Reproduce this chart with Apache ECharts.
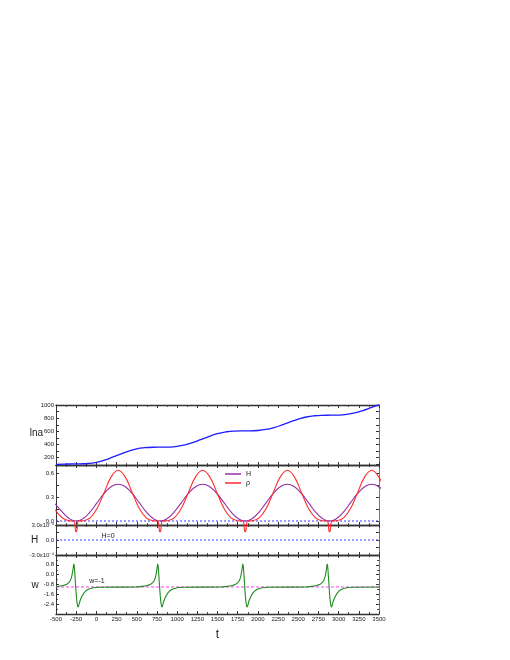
<!DOCTYPE html>
<html><head><meta charset="utf-8">
<script src="https://cdn.jsdelivr.net/npm/echarts@6/dist/echarts.min.js"></script>
<style>html,body{margin:0;padding:0;background:#fff}#c{width:510px;height:660px}</style>
</head><body><div id="c"></div>
<script>
// ---- data ----
const tLna = [-500,-400,-300,-200,-100,0,100,200,300,400,500,600,700,800,900,1000,1100,1200,1300,1400,1500,1600,1700,1800,1900,2000,2100,2200,2300,2400,2500,2600,2700,2800,2900,3000,3100,3200,3300,3400,3500];
const lnaVals = [100,104,106,108,113,130,163,208,256,300,335,352,359,360,362,372,396,433,479,525,565,591,605,608,608,613,629,658,698,743,785,818,837,844,845,847,857,880,916,960,1005];

const tH = [-510,-423,-337,-250,-163,-77,10,97,183,270,357,443,530,617,703,
  789,877,965,1053,1140,1228,1316,1404,1492,1580,1667,1755,
  1843,1930,2017,2104,2191,2278,2365,2452,2539,2626,2713,2800,
  2888,2975,3062,3149,3236,3323,3410,3497,3584];
const hVals = [0.215,0.115,0.031,0,0.031,0.115,0.23,0.345,0.429,0.46,0.429,0.345,0.23,0.115,0.031,
  0,0.031,0.115,0.23,0.345,0.429,0.46,0.429,0.345,0.23,0.115,0.031,
  0,0.031,0.115,0.23,0.345,0.429,0.46,0.429,0.345,0.23,0.115,0.031,
  0,0.031,0.115,0.23,0.345,0.429,0.46,0.429,0.345];

const tRho = [-510,-423,-337,-280,-268,-258,-250,-242,-232,-220,-163,-77,10,97,183,270,357,443,530,617,703,
  759,771,781,789,797,807,819,877,965,1053,1140,1228,1316,1404,1492,1580,1667,1755,
  1813,1825,1835,1843,1851,1861,1873,1930,2017,2104,2191,2278,2365,2452,2539,2626,2713,2800,
  2858,2870,2880,2888,2896,2906,2918,2975,3062,3149,3236,3323,3410,3497,3584];
const rhoVals = [0.139,0.040,0.003,0,-0.03,-0.12,-0.135,-0.12,-0.03,0,0.003,0.040,0.159,0.357,0.552,0.635,0.552,0.357,0.159,0.040,0.003,
  0,-0.03,-0.12,-0.135,-0.12,-0.03,0,0.003,0.040,0.159,0.357,0.552,0.635,0.552,0.357,0.159,0.040,0.003,
  0,-0.03,-0.12,-0.135,-0.12,-0.03,0,0.003,0.040,0.159,0.357,0.552,0.635,0.552,0.357,0.159,0.040,0.003,
  0,-0.03,-0.12,-0.135,-0.12,-0.03,0,0.003,0.040,0.159,0.357,0.552,0.635,0.552,0.357];

const tW = [-500,
  -470,-410,-367,-335,-312,-298,-288,-280,-274,-265,-256,-247,-238,-228,-220,-210,-195,-178,-155,-120,-75,-20,50,
  489,569,629,672,704,727,741,751,759,765,774,783,792,801,811,819,829,844,861,884,919,964,1019,1089,
  1543,1623,1683,1726,1758,1781,1795,1805,1813,1819,1828,1837,1846,1855,1865,1873,1883,1898,1915,1938,1973,2018,2073,2143,
  2588,2668,2728,2771,2803,2826,2840,2850,2858,2864,2873,2882,2891,2900,2910,2918,2928,2943,2960,2983,3018,3063,3118,3188,
  3500];
const wVals = [-0.99,
  -0.95,-0.88,-0.78,-0.6,-0.3,0.1,0.5,0.86,0.7,-0.1,-1.0,-1.8,-2.35,-2.62,-2.55,-2.3,-2.0,-1.75,-1.5,-1.27,-1.13,-1.05,-1.02,
  -1.0,-0.95,-0.88,-0.78,-0.6,-0.3,0.1,0.5,0.86,0.7,-0.1,-1.0,-1.8,-2.35,-2.62,-2.55,-2.3,-2.0,-1.75,-1.5,-1.27,-1.13,-1.05,-1.02,
  -1.0,-0.95,-0.88,-0.78,-0.6,-0.3,0.1,0.5,0.86,0.7,-0.1,-1.0,-1.8,-2.35,-2.62,-2.55,-2.3,-2.0,-1.75,-1.5,-1.27,-1.13,-1.05,-1.02,
  -1.0,-0.95,-0.88,-0.78,-0.6,-0.3,0.1,0.5,0.86,0.7,-0.1,-1.0,-1.8,-2.35,-2.62,-2.55,-2.3,-2.0,-1.75,-1.5,-1.27,-1.13,-1.05,-1.02,
  -1.0];

const refT = [-500, 3500];
const hZero = [0, 0];
const wMinusOne = [-1, -1];

const xTickLabels = [-500,-250,0,250,500,750,1000,1250,1500,1750,2000,2250,2500,2750,3000,3250,3500];
const lnaTicks = [200,400,600,800,1000];
const rhoTicks = [0,0.3,0.6];
const hTicks = [-3,0,3];

// ---- chart ----
const FONT = 'Liberation Sans';
const AX = '#333';
const zip = (a,b) => a.map((v,i) => [v, b[i]]);
const panels = [
  {top:405, height:60},
  {top:465, height:60},
  {top:525, height:30},
  {top:555, height:59}
];
const grid = panels.map(p => ({left:56, width:323, top:p.top, height:p.height}));

const xAxis = [];
panels.forEach((p,i) => {
  ['bottom','top'].forEach(pos => {
    xAxis.push({
      type:'value', gridIndex:i, position:pos, min:-500, max:3500, interval:250,
      axisLine:{show:true, onZero:false, lineStyle:{color:AX, width:1.3}},
      axisTick:{show:true, inside:true, length:3, lineStyle:{color:AX, width:1}},
      minorTick:{show:true, splitNumber:2, length:1.8, lineStyle:{color:AX, width:1}},
      splitLine:{show:false},
      axisLabel:{show: i===3 && pos==='bottom', fontSize:6, margin:2, color:'#222', fontFamily:FONT,
        customValues: xTickLabels, formatter: v => String(v)},
      name: (i===3 && pos==='bottom') ? 't' : '',
      nameLocation:'middle', nameGap:15,
      nameTextStyle:{fontSize:12, color:'#222', fontFamily:FONT}
    });
  });
});

function yPair(i, cfg) {
  const base = {
    type:'value', gridIndex:i, min:cfg.min, max:cfg.max,
    axisLine:{show:true, onZero:false, lineStyle:{color:AX, width:1}},
    axisTick:{show:true, inside:true, length:3, lineStyle:{color:AX, width:1}, customValues:cfg.ticks},
    splitLine:{show:false},
    axisLabel:{show:true, fontSize:6, margin:2, color:'#222', fontFamily:FONT,
      customValues:cfg.labels, formatter:cfg.fmt}
  };
  if (cfg.interval) {
    base.interval = cfg.interval;
    delete base.axisTick.customValues;
    delete base.axisLabel.customValues;
    base.axisLabel.showMinLabel = false;
    base.axisLabel.showMaxLabel = false;
    base.minorTick = {show:true, splitNumber:2, length:1.8, lineStyle:{color:AX}};
  }
  const left = Object.assign({}, base, {position:'left'});
  const right = JSON.parse(JSON.stringify(base));
  right.position = 'right';
  right.axisLabel = {show:false};
  right.axisLine.lineStyle.color = '#777';
  return [left, right];
}
const fmt1 = v => v.toFixed(1);
const yAxis = [
  ...yPair(0, {min:90, max:1000, labels:lnaTicks, ticks:[100,200,300,400,500,600,700,800,900,1000], fmt: v => String(v)}),
  ...yPair(1, {min:-0.05, max:0.7, labels:rhoTicks, ticks:[0,0.15,0.3,0.45,0.6], fmt: fmt1}),
  ...yPair(2, {min:-3, max:3, labels:hTicks, ticks:[-3,-1.5,0,1.5,3],
      fmt: v => v === 0 ? '0.0' : (v > 0 ? '3.0x10\u207B\u2074' : '-3.0x10\u207B\u2074')}),
  ...yPair(3, {min:-3.2, max:1.6, interval:0.8, fmt: fmt1})
];

const BLUE_DOT = '#3a3aff';
const series = [
  {name:'lna', type:'line', xAxisIndex:0, yAxisIndex:0, data:zip(tLna, lnaVals), smooth:true,
   showSymbol:false, color:'#1c1cff', lineStyle:{color:'#1c1cff', width:1.3}},
  {name:'zero2', type:'line', xAxisIndex:2, yAxisIndex:2, data:zip(refT, hZero), showSymbol:false,
   color:BLUE_DOT, lineStyle:{color:BLUE_DOT, width:1, type:[2,2]}},
  {name:'H', type:'line', xAxisIndex:2, yAxisIndex:2, data:zip(tH, hVals), smooth:true,
   showSymbol:false, color:'#9230a8', lineStyle:{color:'#9230a8', width:1.1}},
  {name:'ρ', type:'line', xAxisIndex:2, yAxisIndex:2, data:zip(tRho, rhoVals), smooth:0.4, clip:false,
   showSymbol:false, color:'#ff2a2a', lineStyle:{color:'#ff2a2a', width:1.1}},
  {name:'zero3', type:'line', xAxisIndex:4, yAxisIndex:4, data:zip(refT, hZero), showSymbol:false, z:5,
   color:BLUE_DOT, lineStyle:{color:BLUE_DOT, width:1, type:[2,2]}},
  {name:'wref', type:'line', xAxisIndex:6, yAxisIndex:6, data:zip(refT, wMinusOne), showSymbol:false,
   color:'#ff3cff', lineStyle:{color:'#ff3cff', width:1, type:[3,2]}},
  {name:'w', type:'line', xAxisIndex:6, yAxisIndex:6, data:zip(tW, wVals), smooth:0.35,
   showSymbol:false, color:'#1e8c1e', lineStyle:{color:'#1e8c1e', width:1.1}}
];

const txt = (x, y, s, size) => ({type:'text', x, y, style:{text:s, fontSize:size, fontFamily:FONT,
  fill:'#222', textAlign:'center', textVerticalAlign:'middle'}});

const chart = echarts.init(document.getElementById('c'), null, {renderer:'canvas'});
chart.setOption({
  animation:false,
  backgroundColor:'#fff',
  grid, xAxis, yAxis, series,
  legend:{
    data:[{name:'H', icon:'rect'}, {name:'ρ', icon:'rect'}],
    orient:'vertical', left:225, top:470, padding:0, itemWidth:16, itemHeight:1.5, itemGap:1,
    textStyle:{fontSize:7, lineHeight:8, color:'#222', fontFamily:FONT}
  },
  graphic:[
    txt(36.5, 433, 'lna', 10),
    txt(34.5, 540, 'H', 10),
    txt(35, 585, 'w', 10),
    txt(108, 536, 'H=0', 7),
    txt(97, 581, 'w=-1', 7)
  ]
});
</script></body></html>
